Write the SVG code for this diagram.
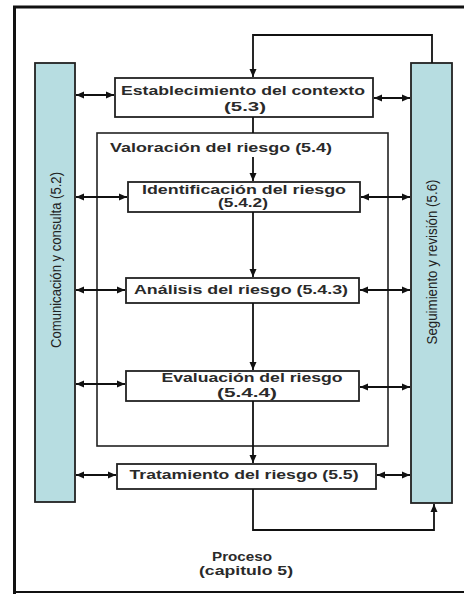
<svg xmlns="http://www.w3.org/2000/svg" width="464" height="594" viewBox="0 0 464 594">
<defs>
<marker id="ah" markerWidth="9" markerHeight="9" refX="8" refY="4.5" orient="auto-start-reverse" markerUnits="userSpaceOnUse">
<path d="M0,1 L8,4.5 L0,8 Z" fill="#111"/>
</marker>
<style>
.frame{fill:none;stroke:#111;}
.bar{fill:#b7dde1;stroke:#222;stroke-width:1.8;}
.box{fill:#fff;stroke:#222;stroke-width:1.8;}
.grp{fill:none;stroke:#222;stroke-width:1.6;}
.lbl{font-family:"Liberation Sans",Arial,sans-serif;font-weight:bold;font-size:12.5px;fill:#2a2a2a;text-anchor:middle;dominant-baseline:central;}
.vlbl{font-family:"Liberation Sans",Arial,sans-serif;font-size:15px;fill:#222;text-anchor:middle;dominant-baseline:central;}
.con{fill:none;stroke:#111;stroke-width:1.8;}
</style>
</defs>
<rect width="464" height="594" fill="#fff"/>
<g id="frame">
<path class="frame" d="M14.5,594 V7 H464" stroke-width="3"/>
<path class="frame" d="M14,592 H464" stroke-width="2"/>
</g>
<g id="comunicacion">
<rect class="bar" x="35" y="63" width="40" height="439"/>
<text class="vlbl" transform="translate(55,260) rotate(-90)" textLength="176" lengthAdjust="spacingAndGlyphs">Comunicación y consulta (5.2)</text>
</g>
<g id="seguimiento">
<rect class="bar" x="411" y="63" width="41" height="440"/>
<text class="vlbl" transform="translate(431,262) rotate(-90)" textLength="165" lengthAdjust="spacingAndGlyphs">Seguimiento y revisión (5.6)</text>
</g>
<g id="establecimiento">
<rect class="box" x="115" y="78" width="258" height="39"/>
<text class="lbl" x="243" y="91" textLength="244" lengthAdjust="spacingAndGlyphs">Establecimiento del contexto</text>
<text class="lbl" x="245" y="107" textLength="42" lengthAdjust="spacingAndGlyphs">(5.3)</text>
</g>
<g id="valoracion">
<rect class="grp" x="97" y="133" width="291" height="313"/>
<text class="lbl" x="221" y="148" textLength="222" lengthAdjust="spacingAndGlyphs">Valoración del riesgo (5.4)</text>
</g>
<g id="identificacion">
<rect class="box" x="128" y="182" width="232" height="30"/>
<text class="lbl" x="244" y="190" textLength="204" lengthAdjust="spacingAndGlyphs">Identificación del riesgo</text>
<text class="lbl" x="243" y="203" textLength="50" lengthAdjust="spacingAndGlyphs">(5.4.2)</text>
</g>
<g id="analisis">
<rect class="box" x="126" y="278" width="233" height="25"/>
<text class="lbl" x="241" y="290" textLength="214" lengthAdjust="spacingAndGlyphs">Análisis del riesgo (5.4.3)</text>
</g>
<g id="evaluacion">
<rect class="box" x="126" y="371" width="233" height="30"/>
<text class="lbl" x="252" y="378" textLength="181" lengthAdjust="spacingAndGlyphs">Evaluación del riesgo</text>
<text class="lbl" x="247" y="393" textLength="60" lengthAdjust="spacingAndGlyphs">(5.4.4)</text>
</g>
<g id="tratamiento">
<rect class="box" x="117" y="464" width="259" height="25"/>
<text class="lbl" x="244" y="475" textLength="229" lengthAdjust="spacingAndGlyphs">Tratamiento del riesgo (5.5)</text>
</g>
<g id="proceso">
<text class="lbl" x="242" y="557" textLength="60" lengthAdjust="spacingAndGlyphs">Proceso</text>
<text class="lbl" x="246" y="571" textLength="94" lengthAdjust="spacingAndGlyphs">(capitulo 5)</text>
</g>
<g id="connectors">
<path class="con" d="M432,63 V35 H253 V77" marker-end="url(#ah)"/>
<path class="con" d="M253,117 V133"/>
<path class="con" d="M253,157 V181" marker-end="url(#ah)"/>
<path class="con" d="M253,212 V277" marker-end="url(#ah)"/>
<path class="con" d="M253,303 V370" marker-end="url(#ah)"/>
<path class="con" d="M253,401 V463" marker-end="url(#ah)"/>
<path class="con" d="M253,489 V530 H434 V504" marker-end="url(#ah)"/>
<path class="con" d="M76,95 H114" marker-start="url(#ah)" marker-end="url(#ah)"/>
<path class="con" d="M374,98 H410" marker-start="url(#ah)" marker-end="url(#ah)"/>
<path class="con" d="M76,197 H127" marker-start="url(#ah)" marker-end="url(#ah)"/>
<path class="con" d="M361,197 H410" marker-start="url(#ah)" marker-end="url(#ah)"/>
<path class="con" d="M76,290 H125" marker-start="url(#ah)" marker-end="url(#ah)"/>
<path class="con" d="M360,290 H410" marker-start="url(#ah)" marker-end="url(#ah)"/>
<path class="con" d="M76,384 H125" marker-start="url(#ah)" marker-end="url(#ah)"/>
<path class="con" d="M360,387 H410" marker-start="url(#ah)" marker-end="url(#ah)"/>
<path class="con" d="M76,475 H116" marker-start="url(#ah)" marker-end="url(#ah)"/>
<path class="con" d="M377,475 H410" marker-start="url(#ah)" marker-end="url(#ah)"/>
</g>
</svg>
